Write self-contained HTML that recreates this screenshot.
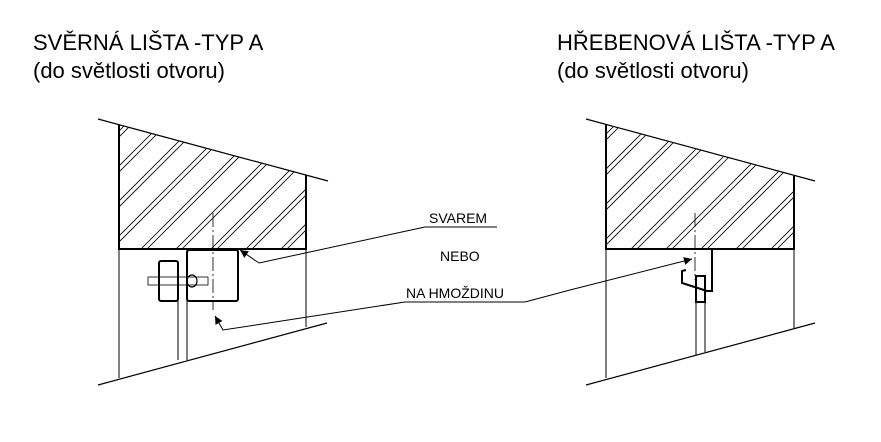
<!DOCTYPE html>
<html><head><meta charset="utf-8"><style>
body{margin:0;background:#fff;width:881px;height:442px;overflow:hidden}
svg{display:block}
text{font-family:"Liberation Sans",Arial,sans-serif;fill:#000}
</style></head><body>
<svg width="881" height="442" viewBox="0 0 881 442" xmlns="http://www.w3.org/2000/svg">
<defs>
<clipPath id="cl"><polygon points="119,125 306,175 306,249 119,249"/></clipPath>
<clipPath id="cr"><polygon points="606,125 794,176 794,249 606,249"/></clipPath>
<g id="hat" stroke="#000" stroke-width="0.8">
<line x1="-200" y1="200" x2="0" y2="0"/><line x1="-194" y1="200" x2="6" y2="0"/>
</g>
<marker id="ar" viewBox="0 0 10 10" refX="10" refY="5" markerWidth="12" markerHeight="8" orient="auto-start-reverse" markerUnits="userSpaceOnUse"><path d="M0,0 L10,5 L0,10 z" fill="#000"/></marker>
</defs>
<text x="33" y="50" font-size="22">SVĚRNÁ LIŠTA -TYP A</text>
<text x="33" y="78" font-size="22">(do světlosti otvoru)</text>
<text x="557" y="50" font-size="22">HŘEBENOVÁ LIŠTA -TYP A</text>
<text x="557" y="78" font-size="22">(do světlosti otvoru)</text>

<g fill="none" stroke="#000">
<g clip-path="url(#cl)">
<use href="#hat" x="150" y="100"/><use href="#hat" x="185" y="100"/><use href="#hat" x="220" y="100"/><use href="#hat" x="255" y="100"/><use href="#hat" x="290" y="100"/><use href="#hat" x="325" y="100"/><use href="#hat" x="360" y="100"/><use href="#hat" x="395" y="100"/><use href="#hat" x="430" y="100"/><use href="#hat" x="465" y="100"/>
</g>
<line x1="98" y1="119" x2="328" y2="181" stroke-width="1.2"/>
<path d="M119,125 V249 H306 V175" stroke-width="2"/>
<line x1="119" y1="249" x2="119" y2="378"/>
<line x1="306" y1="249" x2="306" y2="327"/>
<line x1="98" y1="385" x2="327" y2="323" stroke-width="1.2"/>
<rect x="187" y="250" width="51" height="51" rx="2" stroke-width="2"/>
<rect x="159" y="261" width="19" height="40" rx="2" stroke-width="2"/>
<line x1="178" y1="301" x2="178" y2="360"/><line x1="187" y1="301" x2="187" y2="360"/>
<rect x="148" y="277" width="60" height="8" stroke-width="0.8"/>
<ellipse cx="192" cy="281" rx="5" ry="6" stroke-width="1.2"/>
<line x1="213" y1="213" x2="213" y2="310" stroke-dasharray="14,3,2,3" stroke-width="0.8"/>
<line x1="425" y1="227" x2="497" y2="227"/>
<polyline points="425,227 259,263 240,250" marker-end="url(#ar)"/>
<line x1="405" y1="302" x2="525" y2="302"/>
<polyline points="405,302 223,330 215,316" marker-end="url(#ar)"/>
<polyline points="525,302 570,290 692,259" marker-end="url(#ar)"/>
<g clip-path="url(#cr)">
<use href="#hat" x="640" y="100"/><use href="#hat" x="675" y="100"/><use href="#hat" x="710" y="100"/><use href="#hat" x="745" y="100"/><use href="#hat" x="780" y="100"/><use href="#hat" x="815" y="100"/><use href="#hat" x="850" y="100"/><use href="#hat" x="885" y="100"/><use href="#hat" x="920" y="100"/><use href="#hat" x="955" y="100"/>
</g>
<line x1="586" y1="119" x2="815" y2="181" stroke-width="1.2"/>
<path d="M606,125 V249 H794 V176" stroke-width="2"/>
<line x1="606" y1="249" x2="606" y2="378"/>
<line x1="794" y1="249" x2="794" y2="328"/>
<line x1="586" y1="385" x2="815" y2="323" stroke-width="1.2"/>
<line x1="695" y1="213" x2="695" y2="280" stroke-dasharray="14,3,2,3" stroke-width="0.8"/>
<path d="M680,249 H712 V291 L707,291 L682,283 V271 L686,270" stroke-width="2"/>
<rect x="696" y="276" width="9" height="26" stroke-width="2"/>
<line x1="696" y1="302" x2="696" y2="355"/><line x1="705" y1="302" x2="705" y2="352"/>
</g>
<text x="429" y="223" font-size="14">SVAREM</text>
<text x="440" y="261" font-size="14">NEBO</text>
<text x="406" y="298" font-size="14">NA HMOŽDINU</text>
</svg>
</body></html>
